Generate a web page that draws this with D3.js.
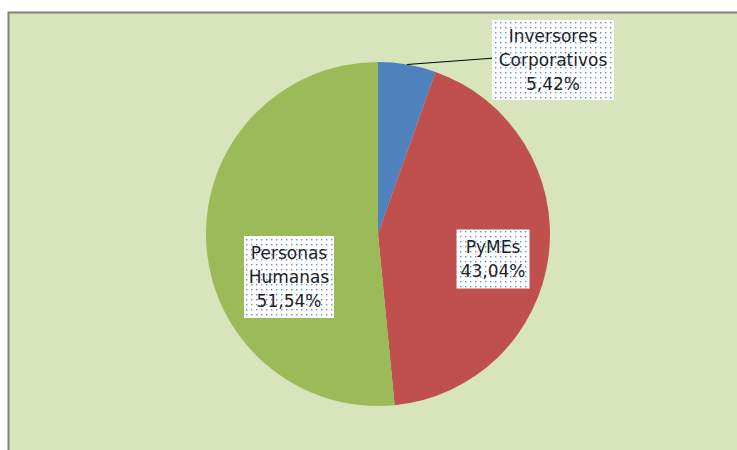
<!DOCTYPE html>
<html>
<head>
<meta charset="utf-8">
<script src="https://cdn.jsdelivr.net/npm/d3@7"></script>
<style>
  body { margin: 0; background: #ffffff; }
  svg { display: block; font-family: "DejaVu Sans", sans-serif; }
</style>
</head>
<body>
<div id="chart"></div>
<script>
// Share of each segment (percent)
const categories = ["Inversores Corporativos", "PyMEs", "Personas Humanas"];
const values = [5.42, 43.04, 51.54];
const labelLines = [
  ["Inversores", "Corporativos", "5,42%"],
  ["PyMEs", "43,04%"],
  ["Personas", "Humanas", "51,54%"],
];
const colors = ["#4f81bd", "#c0504d", "#9bbb59"];

const width = 737;
const height = 450;
const cx = 378;
const cy = 234;
const radius = 172;

const svg = d3
  .select("#chart")
  .append("svg")
  .attr("width", width)
  .attr("height", height);

// dotted fill used behind data labels
const pattern = svg
  .append("defs")
  .append("pattern")
  .attr("id", "dots")
  .attr("width", 5)
  .attr("height", 5)
  .attr("patternUnits", "userSpaceOnUse");
pattern.append("rect").attr("width", 5).attr("height", 5).attr("fill", "#ffffff");
pattern
  .append("rect")
  .attr("x", 2)
  .attr("y", 2)
  .attr("width", 1.4)
  .attr("height", 1.4)
  .attr("fill", "#5f8fd8");

// plot background with a gray frame on top and left
svg
  .append("rect")
  .attr("x", 8)
  .attr("y", 12)
  .attr("width", width - 8)
  .attr("height", height - 12)
  .attr("fill", "#d8e4bc");
svg
  .append("path")
  .attr("d", `M8.5,${height}V12.5H${width}`)
  .attr("fill", "none")
  .attr("stroke", "#808080")
  .attr("stroke-width", 2);

const pie = d3.pie().sort(null).value((d) => d);
const arcs = pie(values);
const arc = d3.arc().innerRadius(0).outerRadius(radius);

const g = svg.append("g").attr("transform", `translate(${cx},${cy})`);

g.selectAll(".slice")
  .data(arcs)
  .enter()
  .append("path")
  .attr("class", "slice")
  .attr("d", arc)
  .attr("fill", (d, i) => colors[i]);

// label boxes (centre positions, relative to the pie centre)
const labelPos = [
  { x: 175, y: -174, w: 122, h: 80 },
  { x: 115, y: 25, w: 73, h: 59 },
  { x: -89, y: 43, w: 90, h: 82 },
];
const lineHeight = 24;

// leader line for the small slice
const small = arcs[0];
const mid = (small.startAngle + small.endAngle) / 2;
g.append("line")
  .attr("x1", Math.sin(mid) * radius)
  .attr("y1", -Math.cos(mid) * radius)
  .attr("x2", labelPos[0].x - labelPos[0].w / 2 + 3)
  .attr("y2", labelPos[0].y - 2)
  .attr("stroke", "#000000")
  .attr("stroke-width", 1);

const labels = g
  .selectAll(".label")
  .data(arcs)
  .enter()
  .append("g")
  .attr("class", "label")
  .attr("transform", (d, i) => `translate(${labelPos[i].x},${labelPos[i].y})`);

labels
  .append("rect")
  .attr("x", (d, i) => -labelPos[i].w / 2)
  .attr("y", (d, i) => -labelPos[i].h / 2)
  .attr("width", (d, i) => labelPos[i].w)
  .attr("height", (d, i) => labelPos[i].h)
  .attr("fill", "url(#dots)");

labels.each(function (d, i) {
  const lines = labelLines[i];
  const top = -((lines.length - 1) * lineHeight) / 2;
  d3.select(this)
    .selectAll("text")
    .data(lines)
    .enter()
    .append("text")
    .attr("x", 0)
    .attr("y", (t, j) => top + j * lineHeight)
    .attr("dy", "0.36em")
    .attr("text-anchor", "middle")
    .attr("font-size", 17)
    .attr("fill", "#1f1f1f")
    .text((t) => t);
});
</script>
</body>
</html>
